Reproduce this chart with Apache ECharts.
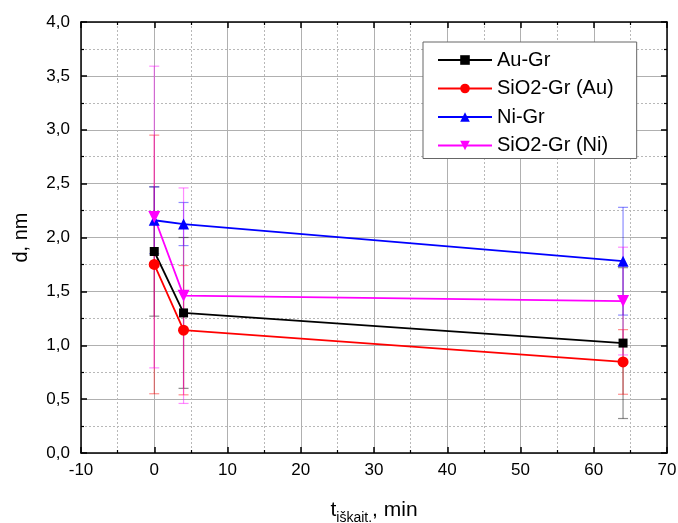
<!DOCTYPE html>
<html>
<head>
<meta charset="utf-8">
<script src="https://cdn.jsdelivr.net/npm/echarts@6/dist/echarts.min.js"></script>
<style>
html,body{margin:0;padding:0;background:#fff;}
#chart{width:678px;height:523px;}
</style>
</head>
<body>
<div id="chart"></div>
<script>
var times = [0, 4, 64];
var seriesNames = ['Au-Gr', 'SiO2-Gr (Au)', 'Ni-Gr', 'SiO2-Gr (Ni)'];
var auGr = [1.87, 1.30, 1.02];
var sio2GrAu = [1.75, 1.14, 0.845];
var niGr = [2.16, 2.125, 1.78];
var sio2GrNi = [2.19, 1.46, 1.41];
// error bar half-widths
var auGrErr = [0.6, 0.7, 0.7];
var sio2GrAuErr = [1.2, 0.6, 0.3];
var niGrErr = [0.31, 0.2, 0.5];
var sio2GrNiErr = [1.4, 1.0, 0.5];

var colors = ['#000000', '#ff0000', '#0000ff', '#ff00ff'];
var symbols = ['rect', 'circle', 'triangle', 'path://M0,0 L10,0 L5,10 Z'];
var symbolSizes = [9, 11, 11, 12];
var values = [auGr, sio2GrAu, niGr, sio2GrNi];
var errs = [auGrErr, sio2GrAuErr, niGrErr, sio2GrNiErr];

var chart = echarts.init(document.getElementById('chart'));

var fontFam = 'Liberation Sans, Arial, sans-serif';
var gridLine = {lineStyle: {color: '#b0b0b0', width: 1}};
var minorGrid = {show: true, lineStyle: {color: '#b8b8b8', type: [2, 2], width: 1}};
var boxLine = {show: true, onZero: false, lineStyle: {color: '#000', width: 1.5}};
var tick = {show: true, inside: true, length: 6, lineStyle: {color: '#000', width: 1.5}};
var minorTick = {show: true, splitNumber: 2, length: 3, lineStyle: {color: '#000', width: 1.2}};

function pairs(arr) {
    return arr.map(function (v, i) { return [times[i], v]; });
}

var series = [];
// error bars first so the lines sit on top
values.forEach(function (vals, k) {
    series.push({
        type: 'custom',
        name: seriesNames[k] + ' err',
        z: 1,
        silent: true,
        data: vals.map(function (v, i) { return [times[i], v - errs[k][i], v + errs[k][i]]; }),
        renderItem: function (params, api) {
            var lo = api.coord([api.value(0), api.value(1)]);
            var hi = api.coord([api.value(0), api.value(2)]);
            var w = 5;
            var st = {stroke: colors[k], lineWidth: 1.2, opacity: 0.45};
            return {
                type: 'group',
                children: [
                    {type: 'line', shape: {x1: lo[0], y1: lo[1], x2: hi[0], y2: hi[1]}, style: st},
                    {type: 'line', shape: {x1: lo[0] - w, y1: lo[1], x2: lo[0] + w, y2: lo[1]}, style: st},
                    {type: 'line', shape: {x1: hi[0] - w, y1: hi[1], x2: hi[0] + w, y2: hi[1]}, style: st}
                ]
            };
        }
    });
});
values.forEach(function (vals, k) {
    series.push({
        type: 'line',
        name: seriesNames[k],
        data: pairs(vals),
        z: 3,
        symbol: symbols[k],
        symbolSize: symbolSizes[k],
        showAllSymbol: true,
        color: colors[k],
        lineStyle: {color: colors[k], width: 1.8},
        itemStyle: {color: colors[k]}
    });
});

option = {
    backgroundColor: '#fff',
    animation: false,
    grid: {left: 81, right: 11, top: 22, bottom: 70, containLabel: false, outerBoundsMode: 'none'},
    legend: {
        data: seriesNames,
        orient: 'vertical',
        left: 423,
        top: 42,
        padding: [8, 23, 3, 14],
        itemGap: 8.5,
        itemWidth: 54,
        itemHeight: 12,
        backgroundColor: '#fff',
        borderColor: '#666',
        borderWidth: 1,
        borderRadius: 0,
        textStyle: {color: '#000', fontSize: 20, fontFamily: fontFam}
    },
    xAxis: [
        {
            type: 'value',
            min: -10,
            max: 70,
            interval: 10,
            position: 'bottom',
            name: '{t|t}{s|iškait.}{t|, min}',
            nameLocation: 'middle',
            nameGap: 42,
            nameTextStyle: {
                rich: {
                    t: {fontSize: 21, fontFamily: fontFam, color: '#000'},
                    s: {fontSize: 14, fontFamily: fontFam, color: '#000', padding: [16, 0, 0, 0]}
                }
            },
            axisLine: boxLine,
            axisTick: tick,
            minorTick: minorTick,
            axisLabel: {color: '#000', fontSize: 17, fontFamily: fontFam, margin: 9},
            splitLine: {show: true, lineStyle: gridLine.lineStyle},
            minorSplitLine: minorGrid
        },
        {
            type: 'value',
            min: -10,
            max: 70,
            interval: 10,
            position: 'top',
            axisLine: boxLine,
            axisTick: tick,
            minorTick: minorTick,
            axisLabel: {show: false},
            splitLine: {show: false}
        }
    ],
    yAxis: [
        {
            type: 'value',
            min: 0,
            max: 4,
            interval: 0.5,
            position: 'left',
            name: 'd, nm',
            nameLocation: 'middle',
            nameGap: 50,
            nameTextStyle: {fontSize: 20, fontFamily: fontFam, color: '#000'},
            axisLine: boxLine,
            axisTick: tick,
            minorTick: minorTick,
            axisLabel: {
                color: '#000', fontSize: 17, fontFamily: fontFam, margin: 11,
                formatter: function (v) { return v.toFixed(1).replace('.', ','); }
            },
            splitLine: {show: true, lineStyle: gridLine.lineStyle},
            minorSplitLine: minorGrid
        },
        {
            type: 'value',
            min: 0,
            max: 4,
            interval: 0.5,
            position: 'right',
            axisLine: boxLine,
            axisTick: tick,
            minorTick: minorTick,
            axisLabel: {show: false},
            splitLine: {show: false}
        }
    ],
    series: series
};
chart.setOption(option);
</script>
</body>
</html>
